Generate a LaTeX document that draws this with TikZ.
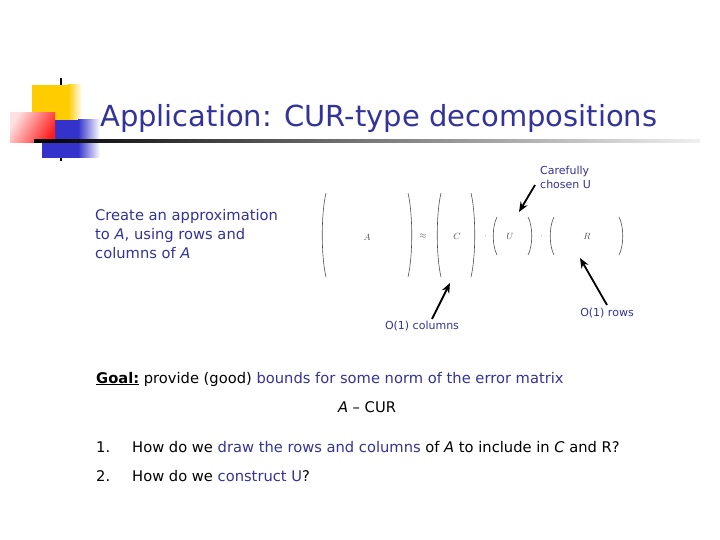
\documentclass[tikz,border=0pt]{standalone}
\usepackage{fontspec}
\setmainfont{DejaVu Sans}
\usetikzlibrary{arrows.meta}
\definecolor{ttl}{RGB}{51,51,153}
\definecolor{bl}{RGB}{51,51,153}
\definecolor{mgray}{RGB}{80,80,80}
\definecolor{lyellow}{RGB}{255,204,0}
\definecolor{lblue}{RGB}{51,51,204}
\definecolor{lred}{RGB}{255,30,30}
\tikzset{
  body/.style={font=\fontsize{14.7}{17}\selectfont, inner sep=0pt},
  small/.style={font=\fontsize{11}{14}\selectfont, text=bl, inner sep=0pt},
  mlab/.style={text=mgray, inner sep=0pt, font=\fontsize{9.5}{11}\selectfont},
  paren/.style={draw=mgray, line width=0.6pt},
  pointer/.style={draw=black, line width=1.8pt, -{Stealth[length=10pt,width=8pt]}},
}
\newcommand{\lparen}[3]{\draw[paren] (#1+4,#2) .. controls (#1-1,#2+0.25*#3-0.25*#2) and (#1-1,#3-0.25*#3+0.25*#2) .. (#1+4,#3);}
\newcommand{\rparen}[3]{\draw[paren] (#1-4,#2) .. controls (#1+1,#2+0.25*#3-0.25*#2) and (#1+1,#3-0.25*#3+0.25*#2) .. (#1-4,#3);}
\begin{document}
\begin{tikzpicture}[x=1pt,y=-1pt]
\useasboundingbox (0,0) rectangle (720,540);
\fill[white] (0,0) rectangle (720,540);
% logo
\draw[black, line width=2pt] (61,78) -- (61,161);
\fill[lyellow] (32,85) rectangle (68,121);
\shade[left color=lyellow, right color=white] (68,85) rectangle (82,121);
\fill[lblue] (42,120) rectangle (78,158);
\shade[left color=lblue, right color=white] (78,120) rectangle (100,158);
\shade[left color=red!12, right color=lred, shading angle=60] (10,113) rectangle (55,143);
\shade[left color=black, right color=black!6] (34,140) rectangle (700,142.5);
% title
\node[anchor=base west, text=ttl, inner sep=0pt, font=\fontsize{29}{33}\selectfont] (title) at (100,127) {Application: CUR-type decompositions};
% left text
\node[anchor=north west, body, text=bl, align=left] (create) at (95,209) {Create an approximation\\[2pt]to \textit{A}, using rows and\\[2pt]columns of \textit{A}};
% matrices
\lparen{322}{193}{277}
\rparen{412}{193}{277}
\lparen{437}{193}{277}
\rparen{475}{193}{277}
\lparen{493}{217}{255}
\rparen{532}{217}{255}
\lparen{550}{217}{255}
\rparen{623}{217}{255}
\node[mlab] (mA) at (367,237) {$A$};
\node[mlab] (approx) at (423,236) {$\approx$};
\node[mlab] (mC) at (457,236) {$C$};
\node[mlab] (dot1) at (486,236) {$\cdot$};
\node[mlab] (mU) at (510,236) {$U$};
\node[mlab] (dot2) at (542,236) {$\cdot$};
\node[mlab] (mR) at (587,236) {$R$};
% labels and arrows
\node[small, align=left, anchor=north west] (careful) at (540,166) {Carefully\\chosen U};
\node[small] (cols) at (422,326) {O(1) columns};
\node[small] (rows) at (607,313) {O(1) rows};
\coordinate (uhead) at (519,212);
\coordinate (ctail) at (432,319);
\coordinate (chead) at (450,283);
\coordinate (rtail) at (607,305);
\coordinate (rhead) at (580,258);
\coordinate (utail) at (535,185);
\draw[pointer] (utail) -- (uhead);
\draw[pointer] (ctail) -- (chead);
\draw[pointer] (rtail) -- (rhead);
% goal
\node[anchor=base west, body] (goal) at (96,383) {\textbf{\underline{Goal:}} provide (good) \textcolor{bl}{bounds for some norm of the error matrix}};
\node[anchor=base, body] (acur) at (367,412) {\textit{A} -- CUR};
\node[anchor=base west, body] (n1) at (96,452) {1.};
\node[anchor=base west, body] (q1) at (132,452) {How do we \textcolor{bl}{draw the rows and columns} of \textit{A} to include in \textit{C} and R?};
\node[anchor=base west, body] (n2) at (96,481) {2.};
\node[anchor=base west, body] (q2) at (132,481) {How do we \textcolor{bl}{construct U}?};
\end{tikzpicture}
\end{document}
